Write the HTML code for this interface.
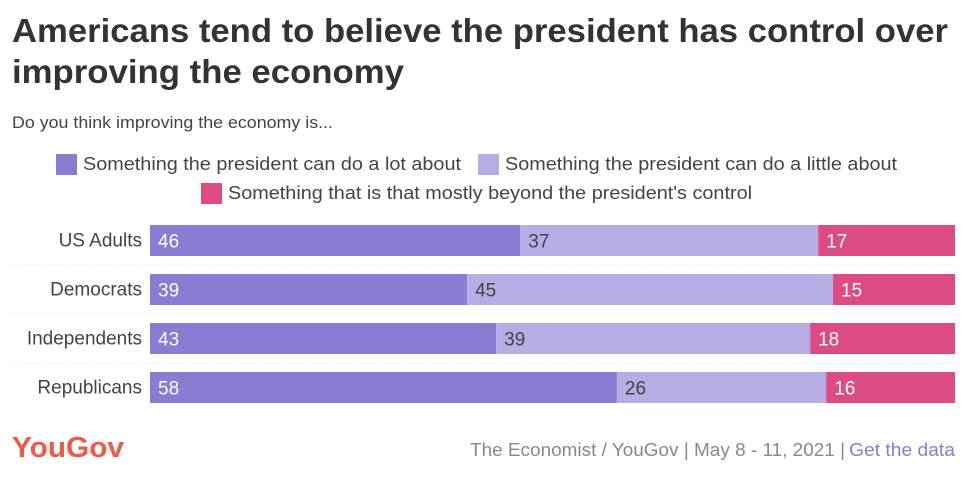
<!DOCTYPE html>
<html><head><meta charset="utf-8">
<style>
body{margin:0;width:976px;height:491px;background:#fff;font-family:"Liberation Sans",sans-serif;overflow:hidden;position:relative}
</style></head><body>
<svg id="c" width="976" height="491" style="position:absolute;left:0;top:0">
<text x="12" y="42" font-size="33" font-weight="bold" fill="#333" textLength="936" lengthAdjust="spacingAndGlyphs">Americans tend to believe the president has control over</text>
<text x="12" y="83" font-size="33" font-weight="bold" fill="#333" textLength="392" lengthAdjust="spacingAndGlyphs">improving the economy</text>
<text x="12" y="128" font-size="17" fill="#444" textLength="321" lengthAdjust="spacingAndGlyphs">Do you think improving the economy is...</text>
<g>
<rect x="56" y="154" width="21" height="21" fill="#8a7bd3"/>
<text x="83" y="170" font-size="18" fill="#444" textLength="378" lengthAdjust="spacingAndGlyphs">Something the president can do a lot about</text>
<rect x="478" y="154" width="21" height="21" fill="#b6ade4"/>
<text x="505" y="170" font-size="18" fill="#444" textLength="392" lengthAdjust="spacingAndGlyphs">Something the president can do a little about</text>
<rect x="201" y="183" width="21" height="21" fill="#dc4c82"/>
<text x="228" y="199" font-size="18" fill="#444" textLength="524" lengthAdjust="spacingAndGlyphs">Something that is that mostly beyond the president's control</text>
</g>
<g id="bars"></g>
<text x="12" y="457" font-size="29" font-weight="bold" fill="#ee5a4a" textLength="112" lengthAdjust="spacingAndGlyphs">YouGov</text>
<text x="470" y="456" font-size="18" fill="#888" textLength="375" lengthAdjust="spacingAndGlyphs">The Economist / YouGov | May 8 - 11, 2021 |</text>
<text x="849" y="456" font-size="18" fill="#8a7bd3" textLength="106" lengthAdjust="spacingAndGlyphs">Get the data</text>
</svg>
<script>
const categories=["US Adults","Democrats","Independents","Republicans"];
const aLot=[46,39,43,58];
const aLittle=[37,45,39,26];
const beyond=[17,15,18,16];
const colors=["#8a7bd3","#b6ade4","#dc4c82"];
const textColors=["#fff","#444","#fff"];
const x0=150,x1=955,top0=225,pitch=49,bh=31;
const g=document.getElementById('bars');
const NS="http://www.w3.org/2000/svg";
categories.forEach((cat,i)=>{
  const y=top0+i*pitch;
  const vals=[aLot[i],aLittle[i],beyond[i]];
  const tot=vals.reduce((a,b)=>a+b,0);
  const xs=v=>v*(x1-x0)/tot;
  const lab=document.createElementNS(NS,'text');
  
  
  lab.setAttribute('x',142);lab.setAttribute('y',y+bh/2+6);lab.setAttribute('text-anchor','end');
  lab.setAttribute('font-size','19');lab.setAttribute('fill','#444');lab.textContent=cat;g.appendChild(lab);
  if(i<categories.length-1){
    const ln=document.createElementNS(NS,'line');
    
    
    ln.setAttribute('x1',12);ln.setAttribute('x2',955);ln.setAttribute('y1',y+bh+9);ln.setAttribute('y2',y+bh+9);
    ln.setAttribute('stroke','#ddd');ln.setAttribute('stroke-dasharray','1,2');g.appendChild(ln);
  }
  let x=x0;
  vals.forEach((v,k)=>{
    const w=xs(v);
    const r=document.createElementNS(NS,'rect');
    
    
    r.setAttribute('x',x);r.setAttribute('y',y);r.setAttribute('width',w);r.setAttribute('height',bh);r.setAttribute('fill',colors[k]);g.appendChild(r);
    const t=document.createElementNS(NS,'text');
    
    
    t.setAttribute('x',x+8);t.setAttribute('y',y+bh/2+7);t.setAttribute('font-size','19');t.setAttribute('fill',textColors[k]);t.textContent=v;g.appendChild(t);
    x+=w;
  });
});
</script>
</body></html>
